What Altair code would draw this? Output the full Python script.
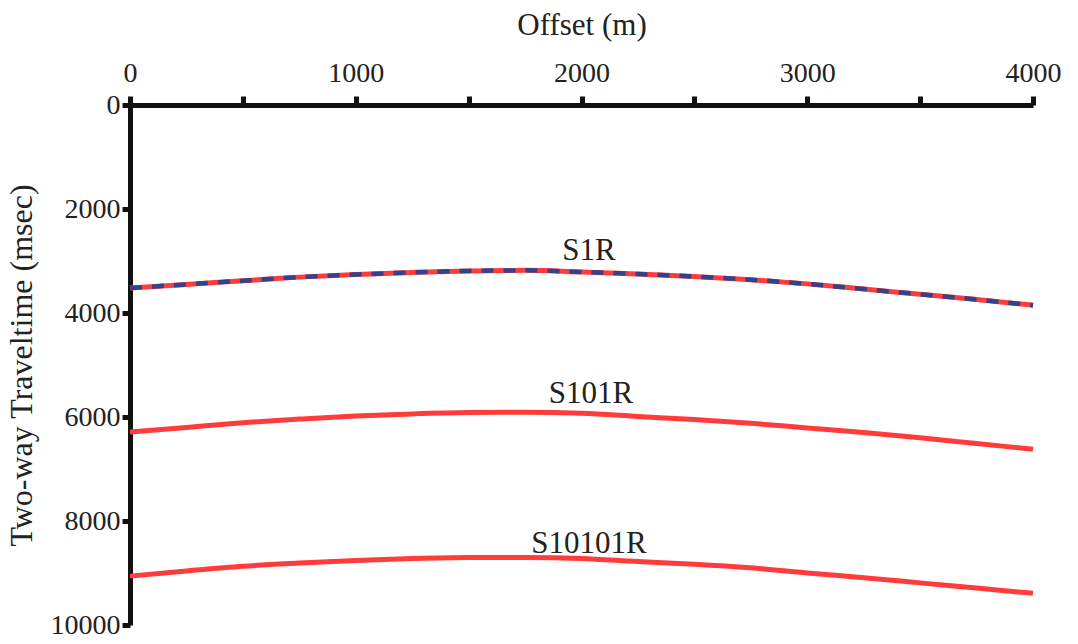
import altair as alt
import pandas as pd

offsets = [0, 250, 500, 750, 1000, 1250, 1500, 1750, 2000, 2250, 2500, 2750, 3000, 3250, 3500, 3750, 4000]
s1r = [3520, 3450, 3380, 3310, 3260, 3220, 3190, 3180, 3210, 3250, 3300, 3360, 3440, 3540, 3640, 3740, 3850]
s101r = [6290, 6200, 6110, 6040, 5980, 5940, 5915, 5910, 5930, 5990, 6050, 6120, 6210, 6300, 6400, 6510, 6620]
s10101r = [9060, 8960, 8870, 8810, 8760, 8720, 8700, 8700, 8720, 8780, 8830, 8900, 9000, 9090, 9190, 9290, 9390]

label_names = ["S1R", "S101R", "S10101R"]
label_offsets = [2033, 2042, 2033]
label_times = [2981, 5731, 8615]

x_ticks = [0, 500, 1000, 1500, 2000, 2500, 3000, 3500, 4000]
y_ticks = [0, 2000, 4000, 6000, 8000, 10000]

rows = []
for name, vals in [("S1R", s1r), ("S101R", s101r), ("S10101R", s10101r)]:
    for o, t in zip(offsets, vals):
        rows.append({"series": name, "offset": o, "time": t})
df = pd.DataFrame(rows)
df_s1 = df[df.series == "S1R"]
labels = pd.DataFrame({"name": label_names, "offset": label_offsets, "time": label_times})

FONT = "Liberation Serif"

x_scale = alt.Scale(domain=[0, 4000], nice=False, zero=False)
y_scale = alt.Scale(domain=[0, 10000], reverse=True, nice=False, zero=False)

x_enc = alt.X("offset:Q", scale=x_scale, axis=alt.Axis(
    orient="top", title="Offset (m)", values=x_ticks,
    labelExpr="datum.value % 1000 == 0 ? datum.label : ''",
    format="d", grid=False, domainColor="#111", domainWidth=5,
    tickColor="#111", tickWidth=5, tickSize=9,
    labelFont=FONT, labelFontSize=28, labelColor="#222", labelPadding=9,
    titleFont=FONT, titleFontSize=31, titleFontWeight="normal", titleColor="#222",
    titlePadding=18, labelFlush=False))
y_enc = alt.Y("time:Q", scale=y_scale, axis=alt.Axis(
    title="Two-way Traveltime (msec)", values=y_ticks, format="d", grid=False,
    domainColor="#111", domainWidth=5, tickColor="#111", tickWidth=5, tickSize=8,
    labelFont=FONT, labelFontSize=28, labelColor="#222", labelPadding=2,
    titleFont=FONT, titleFontSize=32, titleFontWeight="normal", titleColor="#222",
    titlePadding=12, labelFlush=False))

red = alt.Chart(df).mark_line(color="#ff3b3b", strokeWidth=5, interpolate="monotone").encode(
    x=x_enc, y=y_enc, detail="series:N")

blue = alt.Chart(df_s1).mark_line(color="#33428a", strokeWidth=4.5, strokeDash=[12, 10],
                                   interpolate="monotone").encode(
    x="offset:Q", y="time:Q")

text = alt.Chart(labels).mark_text(font=FONT, fontSize=31, color="#222",
                                   align="center", baseline="alphabetic").encode(
    x="offset:Q", y="time:Q", text="name:N")

chart = alt.layer(red, blue, text).properties(
    width=903, height=520,
    autosize=alt.AutoSizeParams(type="none"),
    padding={"left": 130, "top": 105, "right": 45, "bottom": 19},
    background="white",
).configure_view(stroke=None)

chart.save("out.html", embed_options={"renderer": "svg", "actions": False})
